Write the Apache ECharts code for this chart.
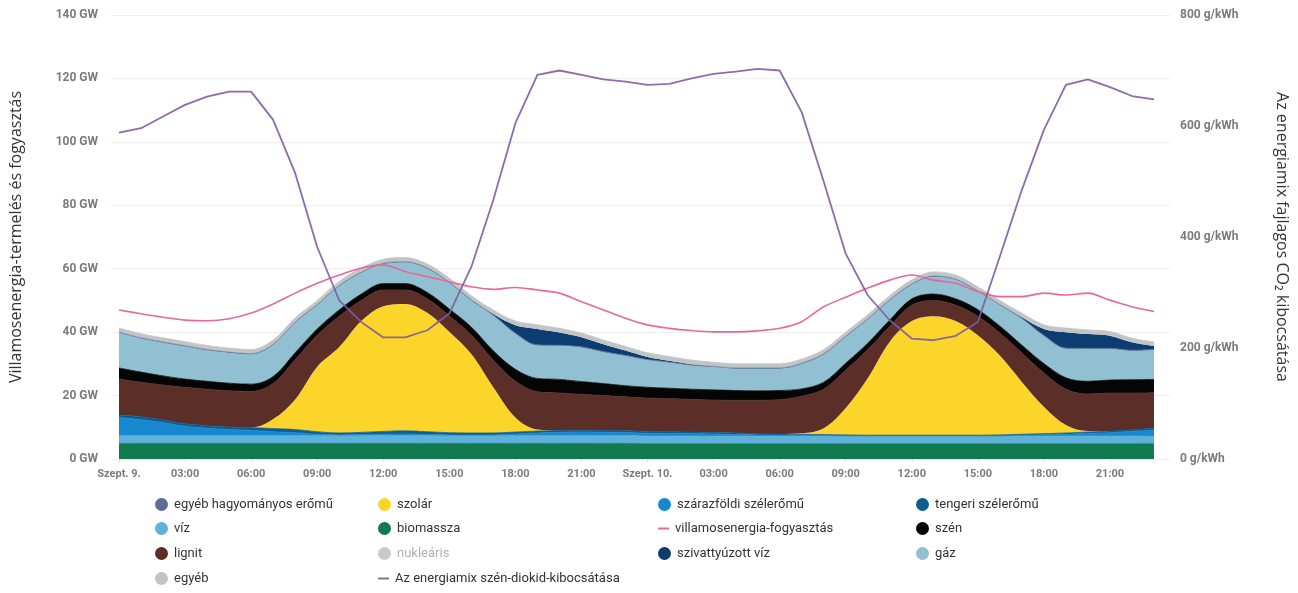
<!DOCTYPE html>
<html>
<head>
<meta charset="utf-8">
<script src="https://cdn.jsdelivr.net/npm/echarts@6/dist/echarts.min.js"></script>
<style>
html,body{margin:0;padding:0;background:#fff;}
#chart{width:1298px;height:593px;}
</style>
</head>
<body>
<div id="chart"></div>
<script>
// órák: Szept. 9. 00:00 – Szept. 10. 23:00
var hours = ['00:00','01:00','02:00','03:00','04:00','05:00','06:00','07:00','08:00','09:00','10:00','11:00',
             '12:00','13:00','14:00','15:00','16:00','17:00','18:00','19:00','20:00','21:00','22:00','23:00',
             '00:00','01:00','02:00','03:00','04:00','05:00','06:00','07:00','08:00','09:00','10:00','11:00',
             '12:00','13:00','14:00','15:00','16:00','17:00','18:00','19:00','20:00','21:00','22:00','23:00'];
var tickLabels = ['Szept. 9.','03:00','06:00','09:00','12:00','15:00','18:00','21:00',
                  'Szept. 10.','03:00','06:00','09:00','12:00','15:00','18:00','21:00'];

// termelés, GW
var biomassza = [4.9,4.9,4.9,4.9,4.9,4.9,4.9,4.9,4.9,4.9,4.9,4.9,4.9,4.9,4.9,4.9,4.9,4.9,4.9,4.9,4.9,4.9,4.9,4.9,
                 4.8,4.8,4.8,4.8,4.8,4.8,4.8,4.8,4.8,4.8,4.8,4.8,4.8,4.8,4.8,4.8,4.8,4.8,4.8,4.8,4.8,4.8,4.8,4.8];
var viz = [2.4,2.4,2.4,2.4,2.4,2.4,2.4,2.4,2.4,2.4,2.4,2.4,2.4,2.4,2.4,2.4,2.4,2.4,2.4,2.4,2.4,2.4,2.4,2.4,
           2.4,2.4,2.4,2.4,2.4,2.4,2.4,2.4,2.4,2.4,2.4,2.4,2.4,2.4,2.4,2.4,2.4,2.4,2.4,2.4,2.4,2.4,2.4,2.3];
var szarazfoldi = [5.7,5.1,4.2,3.0,2.4,2.0,1.7,1.3,1.0,0.5,0.3,0.4,0.5,0.6,0.4,0.3,0.3,0.3,0.6,0.9,1.1,1.2,1.1,1.0,
                   0.9,0.8,0.8,0.7,0.5,0.4,0.3,0.2,0.2,0.1,0.1,0.1,0.1,0.1,0.1,0.1,0.1,0.3,0.5,0.6,0.9,1.1,1.5,2.0];
var tengeri = [0.9,0.9,0.8,0.8,0.8,0.8,0.9,1.0,1.0,0.8,0.6,0.7,0.9,1.0,0.9,0.7,0.6,0.6,0.6,0.6,0.6,0.6,0.6,0.6,
               0.6,0.6,0.5,0.5,0.5,0.4,0.4,0.4,0.3,0.3,0.2,0.2,0.2,0.2,0.2,0.2,0.3,0.3,0.3,0.4,0.4,0.5,0.5,0.6];
var szolar = [0,0,0,0,0,0,0,3.0,9.5,20.5,27.1,35.1,39.5,40.0,37.5,31.8,24.9,14.4,4.6,0.5,0,0,0,0,
              0,0,0,0,0,0,0,0.3,2.0,8.5,18.0,29.5,36.0,37.5,36.0,31.5,25.0,16.5,8.5,2.5,0.3,0,0,0];
var lignit = [11.3,10.9,11.0,11.5,11.5,11.4,11.4,11.2,12.5,9.9,9.7,6.5,5.1,4.4,4.4,5.0,6.0,8.5,11.4,11.9,11.8,11.3,11.0,10.7,
              10.5,10.4,10.3,10.2,10.3,10.5,10.8,11.7,12.3,11.9,9.0,4.8,5.0,5.0,5.0,6.0,7.1,9.1,10.6,11.3,11.7,12.0,11.6,11.2];
var szen = [3.5,3.2,2.9,2.6,2.5,2.4,2.3,2.2,2.2,2.0,2.0,2.0,2.0,2.0,2.0,2.2,2.5,3.0,3.8,4.2,4.3,4.0,3.8,3.5,
            3.4,3.3,3.2,3.2,3.1,3.0,2.9,2.3,2.2,2.2,2.0,2.0,2.0,2.0,2.0,2.1,2.2,2.5,3.0,3.6,4.0,4.1,4.2,4.2];
var gaz = [11.0,10.5,10.4,10.2,9.7,9.5,9.3,9.9,9.4,7.4,7.4,6.6,6.1,6.6,7.4,8.1,8.3,11.0,11.1,10.3,10.5,10.7,9.8,9.3,
           8.5,8.0,7.4,7.1,6.8,6.9,6.8,7.8,8.7,8.2,7.4,6.1,4.4,5.4,5.9,5.6,6.5,8.2,8.6,9.1,10.1,9.7,9.0,9.2];
var egyebHagyomanyos = [0.3,0.3,0.3,0.3,0.3,0.3,0.3,0.3,0.3,0.3,0.3,0.3,0.3,0.3,0.3,0.3,0.3,0.3,0.3,0.3,0.3,0.3,0.3,0.3,
                        0.3,0.3,0.3,0.3,0.3,0.3,0.3,0.3,0.3,0.3,0.3,0.3,0.3,0.3,0.3,0.3,0.3,0.3,0.3,0.3,0.3,0.3,0.3,0.3];
var szivattyuzott = [0,0,0,0,0,0,0,0,0,0,0,0,0,0,0,0,0,0.3,2.5,5.0,4.0,3.0,2.3,1.5,
                     0.8,0.4,0.2,0,0,0,0,0,0,0,0,0,0,0,0,0,0,0.3,2.0,5.0,4.5,4.0,2.5,1.0];
var nuklearis = [0,0,0,0,0,0,0,0,0,0,0,0,0,0,0,0,0,0,0,0,0,0,0,0,
                 0,0,0,0,0,0,0,0,0,0,0,0,0,0,0,0,0,0,0,0,0,0,0,0];
var egyeb = [1.3,1.3,1.3,1.3,1.3,1.3,1.3,1.3,1.3,1.3,1.3,1.3,1.3,1.3,1.3,1.3,1.3,1.3,1.3,1.3,1.3,1.3,1.3,1.3,
             1.3,1.3,1.3,1.3,1.3,1.3,1.3,1.3,1.3,1.3,1.3,1.3,1.3,1.3,1.3,1.3,1.3,1.3,1.3,1.3,1.3,1.3,1.3,1.3];

// fogyasztás, GW
var fogyasztas = [47.0,45.8,44.7,43.8,43.6,44.2,46.0,48.9,52.3,55.4,58.0,60.2,61.2,59.1,57.5,55.9,54.3,53.5,54.1,53.3,52.3,49.6,47.0,44.4,
                  42.3,41.2,40.5,40.1,40.1,40.4,41.2,43.3,48.0,51.0,53.9,56.4,58.0,56.4,55.4,52.8,51.2,51.2,52.3,51.7,52.3,50.1,48.0,46.5];
// CO2 intenzitás, g/kWh
var co2 = [588,596,617,638,653,662,662,611,515,382,286,247,219,219,232,262,346,467,605,692,700,692,684,680,
           674,676,686,694,698,703,700,625,500,370,295,250,217,214,222,247,365,485,593,674,684,670,654,648];

var areaDefs = [ // alulról felfelé: név, adatok, szín, körvonal
	['biomassza', biomassza, '#117a4e', 0.8],
	['víz', viz, '#5db1db', 0.8],
	['szárazföldi szélerőmű', szarazfoldi, '#1788d0', 0.8],
	['tengeri szélerőmű', tengeri, '#0e5d90', 0.8],
	['szolár', szolar, '#fcd52b', 0],
	['lignit', lignit, '#5c2e28', 0.8],
	['szén', szen, '#050505', 0.8],
	['gáz', gaz, '#91c0d3', 0.8],
	['egyéb hagyományos erőmű', egyebHagyomanyos, '#5a6d94', 0.6],
	['szivattyúzott víz', szivattyuzott, '#0c3c72', 0],
	['nukleáris', nuklearis, '#c9c9c9', 0],
	['egyéb', egyeb, '#c2c4c6', 0.8]
];

var series = areaDefs.map(function(d){
	return {
		name: d[0],
		type: 'line',
		stack: 'mix',
		smooth: 0.35,
		symbol: 'none',
		xAxisIndex: 0,
		yAxisIndex: 2,
		data: d[1],
		itemStyle: {color: d[2]},
		lineStyle: {width: d[3], color: d[2]},
		areaStyle: {color: d[2], opacity: 1},
		z: 2
	};
});
series.push({
	name: 'villamosenergia-fogyasztás',
	type: 'line',
	smooth: 0.3,
	symbol: 'none',
	xAxisIndex: 0,
	yAxisIndex: 2,
	data: fogyasztas,
	itemStyle: {color: '#e8689a'},
	lineStyle: {width: 1.6, color: '#e8689a'},
	z: 5
});
series.push({
	name: 'Az energiamix szén-diokid-kibocsátása',
	type: 'line',
	symbol: 'none',
	xAxisIndex: 0,
	yAxisIndex: 3,
	data: co2,
	itemStyle: {color: '#8a66a6'},
	lineStyle: {width: 1.8, color: 'rgba(128,92,160,0.9)'},
	z: 6
});

// jelmagyarázat: 4 oszlop
var legendCols = [150, 373, 653, 911];
var legendRows = [493, 517, 542, 567];
var legendItems = [
	['egyéb hagyományos erőmű', 0, 0], ['szolár', 1, 0], ['szárazföldi szélerőmű', 2, 0], ['tengeri szélerőmű', 3, 0],
	['víz', 0, 1], ['biomassza', 1, 1], ['villamosenergia-fogyasztás', 2, 1], ['szén', 3, 1],
	['lignit', 0, 2], ['nukleáris', 1, 2], ['szivattyúzott víz', 2, 2], ['gáz', 3, 2],
	['egyéb', 0, 3], ['Az energiamix szén-diokid-kibocsátása', 1, 3]
];
var legendFont = 'Roboto, "Noto Sans", sans-serif';
var legends = legendItems.map(function(it){
	var isLine = it[0]=='villamosenergia-fogyasztás' || it[0]=='Az energiamix szén-diokid-kibocsátása';
	var item = {name: it[0]};
	if (it[0]=='nukleáris') item.textStyle = {color: '#b0b0b0'};
	if (it[0]=='Az energiamix szén-diokid-kibocsátása') item.itemStyle = {color: '#7a7a7a'};
	return {
		left: legendCols[it[1]],
		top: legendRows[it[2]],
		itemWidth: isLine ? 11 : 13,
		itemHeight: isLine ? 2 : 13,
		icon: isLine ? 'rect' : 'circle',
		selectedMode: false,
		textStyle: {fontSize: 13, color: '#333', fontFamily: legendFont, padding: [1, 0, 0, 1]},
		data: [item]
	};
});

var axisFont = 'Roboto, sans-serif';
var nameFont = '"Open Sans", sans-serif';

var option = {
	animation: false,
	backgroundColor: '#fff',
	grid: [
		{left: 119, right: 144, top: 15, bottom: 134},  // adatok
		{left: 110, right: 128, top: 15, bottom: 134}   // rácsvonalak, tengelyfeliratok
	],
	legend: legends,
	xAxis: [
		{
			type: 'category',
			gridIndex: 0,
			data: hours,
			boundaryGap: false,
			splitLine: {show: false},
			axisLine: {show: false},
			axisTick: {show: true, length: 3, interval: 2, lineStyle: {color: '#dcdcdc'}},
			axisLabel: {
				interval: 2,
				margin: 10,
				fontSize: 11,
				fontWeight: 'bold',
				color: '#7b7b7b',
				fontFamily: axisFont,
				formatter: function(v, i){ return tickLabels[i / 3]; }
			}
		},
		{type: 'value', gridIndex: 1, min: 0, max: 1, show: false}
	],
	yAxis: [
		{
			type: 'value',
			gridIndex: 1,
			min: 0, max: 140, interval: 20,
			name: 'Villamosenergia-termelés és fogyasztás',
			nameLocation: 'middle',
			nameGap: 87,
			nameTextStyle: {fontSize: 16, color: '#333', fontFamily: nameFont},
			axisLine: {show: false},
			axisTick: {show: false},
			splitLine: {lineStyle: {color: '#eeeeee', width: 1}},
			axisLabel: {formatter: '{value} GW', fontSize: 12, fontWeight: 'bold', color: '#7b7b7b', fontFamily: axisFont, margin: 13}
		},
		{
			type: 'value',
			gridIndex: 1,
			position: 'right',
			min: 0, max: 800, interval: 200,
			name: 'Az energiamix fajlagos CO₂ kibocsátása',
			nameLocation: 'middle',
			nameRotate: -90,
			nameGap: 104,
			nameTextStyle: {fontSize: 16, color: '#333', fontFamily: nameFont},
			axisLine: {show: false},
			axisTick: {show: false},
			splitLine: {show: false},
			axisLabel: {formatter: '{value} g/kWh', fontSize: 12, fontWeight: 'bold', color: '#7b7b7b', fontFamily: axisFont, margin: 10}
		},
		{type: 'value', gridIndex: 0, min: 0, max: 140, show: false, splitLine: {show: false}},
		{type: 'value', gridIndex: 0, position: 'right', min: 0, max: 800, show: false, splitLine: {show: false}}
	],
	series: series
};

var chart = echarts.init(document.getElementById('chart'));
chart.setOption(option);
</script>
</body>
</html>
